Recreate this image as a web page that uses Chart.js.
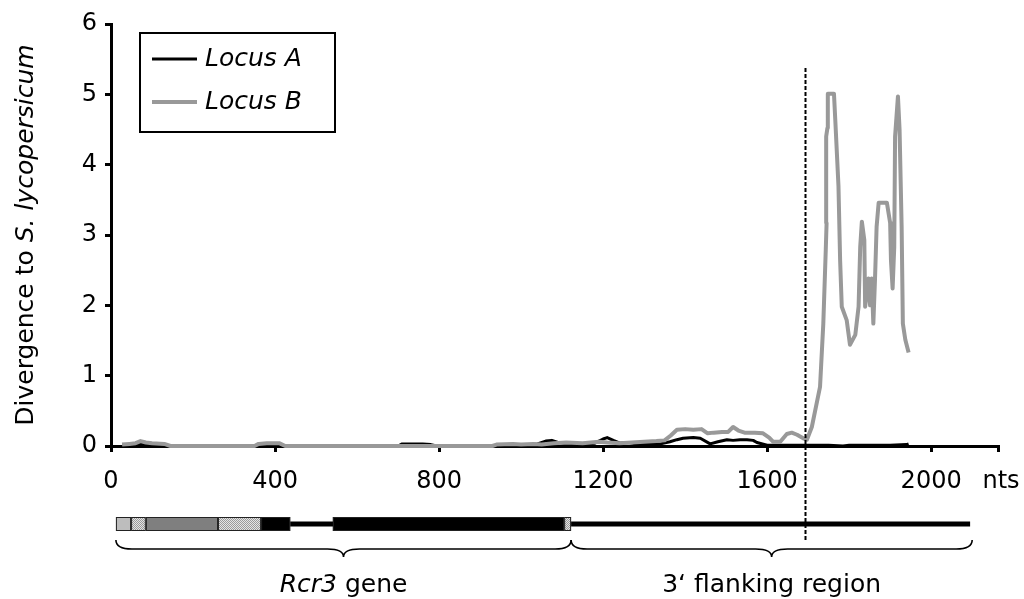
<!DOCTYPE html>
<html><head><meta charset="utf-8">
<script src="https://cdn.jsdelivr.net/npm/chart.js@4.4.0/dist/chart.umd.min.js"></script>
<style>html,body{margin:0;padding:0;background:#fff;overflow:hidden}</style>
</head><body>
<canvas id="c" width="1024" height="599"></canvas>
<script>
// ---- data ----
const seriesNames = ['Locus A', 'Locus B'];
const locusA_nt  = [27,55,72,85,100,360,380,410,425,700,710,760,780,795,1000,1040,1060,1075,1090,1110,1150,1180,1200,1210,1225,1241,1260,1280,1340,1363,1380,1395,1420,1437,1461,1480,1502,1517,1534,1551,1566,1575,1600,1650,1700,1750,1785,1800,1850,1900,1940,1945];
const locusA_div = [0,0.01,0.03,0.02,0,0,0.02,0.02,0,0,0.03,0.03,0.02,0,0,0.03,0.07,0.08,0.05,0.03,0.02,0.04,0.10,0.12,0.08,0.04,0.05,0.03,0.03,0.06,0.09,0.11,0.12,0.11,0.03,0.06,0.09,0.08,0.09,0.09,0.08,0.05,0.01,0.01,0.01,0.01,0,0.01,0.01,0.01,0.02,0.03];
const locusB_nt  = [27,45,60,72,85,100,130,145,350,360,380,410,425,930,940,980,1000,1030,1050,1080,1110,1150,1190,1210,1240,1270,1300,1330,1350,1365,1380,1400,1420,1440,1455,1470,1490,1505,1517,1530,1545,1570,1590,1605,1615,1632,1648,1660,1673,1688,1697,
  1709,1729,1737,1743,1745,1744,1747,1748,1763,1766,1774,1778,1782,1794,1802,1815,1823,1827,1831,1837,1839,1847,1851,1855,1859,1863,1867,1872,1892,1900,1902,1906,1910,1912,1919,1923,1928,1931,1937,1945];
const locusB_div = [0.02,0.03,0.04,0.07,0.05,0.04,0.03,0,0,0.03,0.04,0.04,0,0,0.02,0.03,0.02,0.03,0.02,0.04,0.05,0.04,0.06,0.05,0.04,0.05,0.06,0.07,0.08,0.15,0.23,0.24,0.23,0.24,0.18,0.19,0.20,0.20,0.27,0.22,0.19,0.19,0.18,0.12,0.06,0.06,0.17,0.19,0.16,0.11,0.09,
  0.27,0.84,1.74,2.79,3.17,4.40,4.52,5.01,5.01,4.66,3.69,2.64,1.98,1.79,1.44,1.58,1.98,2.83,3.19,2.93,1.98,2.38,2.00,2.38,1.74,2.36,3.12,3.46,3.46,3.17,2.64,2.24,2.83,4.40,4.97,4.49,3.12,1.74,1.51,1.33];
const xTickValues = [0,400,800,1200,1600,2000];
const xAxisEnd = 2163;
const xUnitLabel = 'nts';
const yTickValues = [0,1,2,3,4,5,6];
const yTitlePlain = 'Divergence to ';
const yTitleItalic = 'S. lycopersicum';
const boundaryNt = 1693;
// gene model (nt)
const geneSegStart = [12, 49, 85, 261, 366, 541, 1105];
const geneSegEnd   = [49, 85, 261, 366, 437, 1105, 1122];
const geneSegType  = ['light','check','dark','check','exon','exon','check'];
const backboneNt   = [437, 2095];
const regionStart  = [12, 1122];
const regionEnd    = [1122, 2100];
const regionItalic = ['Rcr3', ''];
const regionPlain  = [' gene', '3\u2018 flanking region'];

// ---- chart ----
const FONT = '"DejaVu Sans", "Liberation Sans", Arial, sans-serif';
const TICK_PAD = 15, TICK_LEN = 6, TICK_SIZE = 24;
const colors = ['#000000', '#999999'];
const widths = [3, 4];
const ctx0 = document.getElementById('c').getContext('2d');

function checkerPattern(ctx){
  const c = document.createElement('canvas'); c.width = c.height = 2;
  const g = c.getContext('2d');
  g.fillStyle = '#e4e4e4'; g.fillRect(0,0,2,2);
  g.fillStyle = '#9a9a9a'; g.fillRect(0,0,1,1); g.fillRect(1,1,1,1);
  return ctx.createPattern(c, 'repeat');
}

const annot = {
  id: 'annot',
  afterDatasetsDraw(chart){
    const ctx = chart.ctx, xs = chart.scales.x, area = chart.chartArea;
    const px = v => xs.getPixelForValue(v);
    ctx.save();
    // unit label at the axis end
    ctx.fillStyle = '#000'; ctx.font = TICK_SIZE + 'px ' + FONT;
    ctx.textAlign = 'center'; ctx.textBaseline = 'middle';
    ctx.fillText(xUnitLabel, px(xAxisEnd) + 3, xs.top + TICK_LEN + TICK_PAD + TICK_SIZE * 0.6);
    // gene backbone
    ctx.fillStyle = '#000';
    ctx.fillRect(px(backboneNt[0]), 521.5, px(backboneNt[1]) - px(backboneNt[0]), 5);
    // gene segments
    const pat = checkerPattern(ctx);
    for (let i = 0; i < geneSegStart.length; i++){
      const a = px(geneSegStart[i]), b = px(geneSegEnd[i]);
      const t = geneSegType[i];
      ctx.fillStyle = t === 'light' ? '#bdbdbd' : t === 'dark' ? '#7f7f7f' : t === 'check' ? pat : '#000';
      ctx.fillRect(a, 517, b - a, 14);
      ctx.strokeStyle = '#222'; ctx.lineWidth = 1;
      ctx.strokeRect(a + 0.5, 517.5, b - a - 1, 13);
    }
    // braces
    ctx.strokeStyle = '#000'; ctx.lineWidth = 1.6;
    for (let i = 0; i < regionStart.length; i++){
      const x1 = px(regionStart[i]), x2 = px(regionEnd[i]);
      const y = 540, d = 17, h = 9, m = (x1 + x2) / 2, r = 16;
      ctx.beginPath();
      ctx.moveTo(x1, y);
      ctx.quadraticCurveTo(x1, y + h, x1 + r, y + h);
      ctx.lineTo(m - r, y + h);
      ctx.quadraticCurveTo(m, y + h, m, y + d);
      ctx.quadraticCurveTo(m, y + h, m + r, y + h);
      ctx.lineTo(x2 - r, y + h);
      ctx.quadraticCurveTo(x2, y + h, x2, y);
      ctx.stroke();
      // label
      const fI = 'italic 25px ' + FONT, fN = '25px ' + FONT;
      ctx.font = fI; const wI = ctx.measureText(regionItalic[i]).width;
      ctx.font = fN; const wN = ctx.measureText(regionPlain[i]).width;
      let sx = m - (wI + wN) / 2;
      ctx.fillStyle = '#000'; ctx.textBaseline = 'alphabetic'; ctx.textAlign = 'left';
      ctx.font = fI; ctx.fillText(regionItalic[i], sx, 592);
      ctx.font = fN; ctx.fillText(regionPlain[i], sx + wI, 592);
    }
    // dashed boundary line
    const bx = Math.round(px(boundaryNt)) + 0.5;
    ctx.strokeStyle = '#000'; ctx.lineWidth = 2; ctx.setLineDash([4, 2]);
    ctx.beginPath(); ctx.moveTo(bx, 68); ctx.lineTo(bx, 540); ctx.stroke();
    ctx.setLineDash([]);
    // legend
    ctx.lineWidth = 2; ctx.strokeStyle = '#000';
    ctx.strokeRect(140, 33, 195, 99);
    const ly = [59, 102];
    for (let i = 0; i < seriesNames.length; i++){
      ctx.strokeStyle = colors[i]; ctx.lineWidth = widths[i];
      ctx.beginPath(); ctx.moveTo(152, ly[i]); ctx.lineTo(197, ly[i]); ctx.stroke();
      ctx.fillStyle = '#000'; ctx.font = 'italic 25px ' + FONT;
      ctx.textBaseline = 'middle'; ctx.textAlign = 'left';
      ctx.fillText(seriesNames[i], 205, ly[i]);
    }
    // y-axis title
    ctx.translate(26, (area.top + area.bottom) / 2);
    ctx.rotate(-Math.PI / 2);
    ctx.font = '25px ' + FONT; const w1 = ctx.measureText(yTitlePlain).width;
    ctx.font = 'italic 25px ' + FONT; const w2 = ctx.measureText(yTitleItalic).width;
    ctx.textBaseline = 'middle'; ctx.textAlign = 'left'; ctx.fillStyle = '#000';
    ctx.font = '25px ' + FONT; ctx.fillText(yTitlePlain, -(w1 + w2) / 2, 0);
    ctx.font = 'italic 25px ' + FONT; ctx.fillText(yTitleItalic, -(w1 + w2) / 2 + w1, 0);
    ctx.restore();
  }
};

const toPts = (xs, ys) => xs.map((v, i) => ({x: v, y: ys[i]}));

new Chart(ctx0, {
  type: 'line',
  data: {
    datasets: [
      {label: seriesNames[0], data: toPts(locusA_nt, locusA_div), borderColor: colors[0], borderWidth: widths[0], pointRadius: 0, tension: 0, clip: false, borderJoinStyle: 'round', order: 1},
      {label: seriesNames[1], data: toPts(locusB_nt, locusB_div), borderColor: colors[1], borderWidth: widths[1], pointRadius: 0, tension: 0, clip: false, borderJoinStyle: 'round', order: 0}
    ]
  },
  options: {
    responsive: false,
    animation: false,
    layout: {padding: {left: 0, right: 26, top: 24, bottom: 0}},
    plugins: {legend: {display: false}, tooltip: {enabled: false}},
    scales: {
      x: {
        type: 'linear', min: 0, max: xAxisEnd,
        afterBuildTicks: s => { s.ticks = xTickValues.concat([xAxisEnd]).map(v => ({value: v})); },
        afterFit: s => { s.height = 153; },
        ticks: {
          color: '#000', font: {family: FONT, size: TICK_SIZE}, padding: TICK_PAD, maxRotation: 0, autoSkip: false,
          callback: v => v === xAxisEnd ? '' : String(v)
        },
        grid: {drawOnChartArea: false, drawTicks: true, tickLength: TICK_LEN, color: '#000', lineWidth: 3},
        border: {display: true, color: '#000', width: 3}
      },
      y: {
        min: 0, max: 6,
        afterBuildTicks: s => { s.ticks = yTickValues.map(v => ({value: v})); },
        afterFit: s => { s.width = 111; },
        ticks: {color: '#000', font: {family: FONT, size: TICK_SIZE}, padding: 8, callback: v => String(v)},
        grid: {drawOnChartArea: false, drawTicks: true, tickLength: TICK_LEN, color: '#000', lineWidth: 3},
        border: {display: true, color: '#000', width: 3}
      }
    }
  },
  plugins: [annot]
});
</script>
</body></html>
